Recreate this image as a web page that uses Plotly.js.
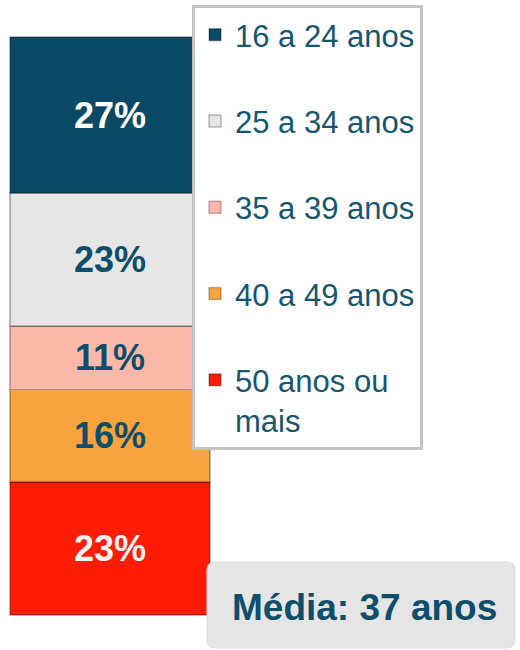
<!DOCTYPE html>
<html>
<head>
<meta charset="utf-8">
<script src="https://cdn.plot.ly/plotly-3.0.1.min.js"></script>
<style>html,body{margin:0;padding:0;background:#fff;}#chart{width:520px;height:650px;}</style>
</head>
<body>
<div id="chart"></div>
<script>
// Data (bottom of stack first)
const ageGroups = ["50 anos ou<br>mais", "40 a 49 anos", "35 a 39 anos", "25 a 34 anos", "16 a 24 anos"];
const shares = [23, 16, 11, 23, 27];
const category = ["Idade"];
const averageLabel = "Média: 37 anos";

const colors = ["#fd1d06", "#f9a33e", "#fcb8a8", "#e6e6e6", "#0b4a66"];
const labelColors = ["#f2f2f2", "#0e4e6b", "#0e4e6b", "#0e4e6b", "#ffffff"];

const W = 520, H = 650;
function px(x){ return x / W; }
function py(y){ return 1 - y / H; }
function roundRect(x0, y0, x1, y1, r){
  return "M" + px(x0 + r) + "," + py(y0) +
    " L" + px(x1 - r) + "," + py(y0) +
    " Q" + px(x1) + "," + py(y0) + " " + px(x1) + "," + py(y0 + r) +
    " L" + px(x1) + "," + py(y1 - r) +
    " Q" + px(x1) + "," + py(y1) + " " + px(x1 - r) + "," + py(y1) +
    " L" + px(x0 + r) + "," + py(y1) +
    " Q" + px(x0) + "," + py(y1) + " " + px(x0) + "," + py(y1 - r) +
    " L" + px(x0) + "," + py(y0 + r) +
    " Q" + px(x0) + "," + py(y0) + " " + px(x0 + r) + "," + py(y0) + " Z";
}

const traces = ageGroups.map((g, i) => ({
  type: "bar",
  name: g,
  legendgroup: "g" + i,
  legendrank: 1000 - i,
  x: category,
  y: [shares[i]],
  width: [1],
  marker: {color: colors[i], line: {color: "rgba(0,0,0,0.25)", width: 1.5}},
  texttemplate: "%{y}%",
  textposition: "inside",
  insidetextanchor: "middle",
  textangle: 0,
  textfont: {family: "Liberation Sans, Arial, sans-serif", size: 36, weight: "bold", color: labelColors[i]},
  hoverinfo: "skip"
}));

const layout = {
  width: W, height: H,
  margin: {l: 0, r: 0, t: 0, b: 0},
  paper_bgcolor: "#ffffff",
  plot_bgcolor: "rgba(0,0,0,0)",
  barmode: "stack",
  showlegend: true,
  xaxis: {visible: false, range: [-0.55, 2.05], fixedrange: true},
  yaxis: {visible: false, range: [-6.06, 106.4], fixedrange: true},
  legend: {
    x: px(192), y: py(5), xanchor: "left", yanchor: "top",
    traceorder: "grouped",
    tracegroupgap: 43,
    valign: "top",
    bgcolor: "#ffffff",
    bordercolor: "#c4c4c4",
    borderwidth: 3,
    itemwidth: 30,
    font: {family: "Liberation Sans, Arial, sans-serif", size: 31, color: "#17566f"}
  },
  shapes: [
    {type: "path", xref: "paper", yref: "paper", path: roundRect(207, 562, 515, 648, 8),
     fillcolor: "#e5e5e5", line: {color: "#dcdcdc", width: 1}, layer: "above"}
  ],
  annotations: [
    {xref: "paper", yref: "paper", x: px(364), y: py(607), xanchor: "center", yanchor: "middle",
     text: averageLabel, showarrow: false,
     font: {family: "Liberation Sans, Arial, sans-serif", size: 37, weight: "bold", color: "#0d4e6b"}}
  ]
};

Plotly.newPlot("chart", traces, layout, {displayModeBar: false, staticPlot: true});
</script>
</body>
</html>
